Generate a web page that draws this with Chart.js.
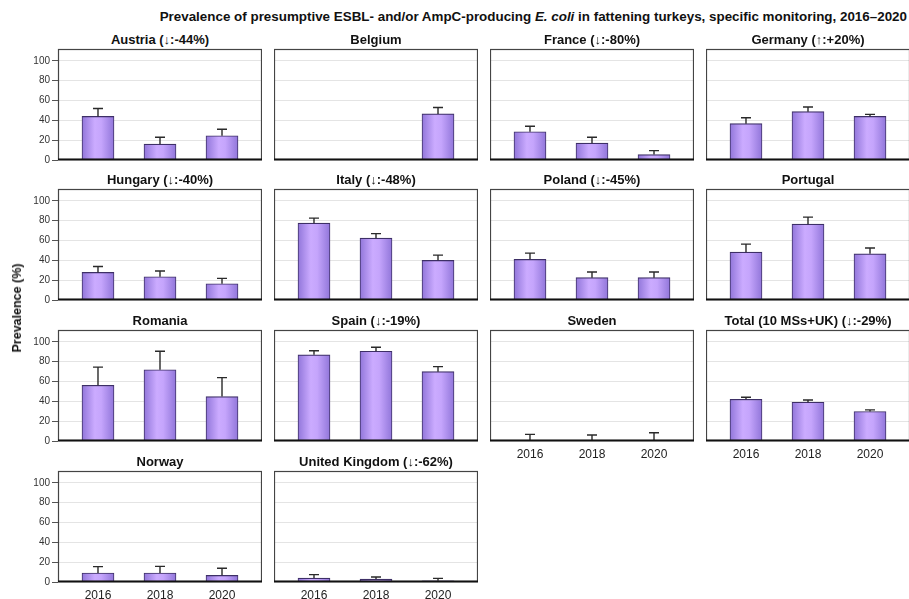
<!DOCTYPE html>
<html>
<head>
<meta charset="utf-8">
<script src="https://cdn.jsdelivr.net/npm/chart.js@4.4.1/dist/chart.umd.min.js"></script>
<style>
  body { margin: 0; background: #fff; width: 909px; height: 599px; overflow: hidden; position: relative; font-family: "Liberation Sans", Arial, sans-serif; }
  canvas { position: absolute; }
  .ptitle { position: absolute; width: 260px; margin-left: -130px; text-align: center; font-size: 13px; font-weight: bold; color: #111; white-space: nowrap; line-height: 16px; }
  #mainTitle { position: absolute; right: 2px; top: 8px; font-size: 13.4px; font-weight: bold; color: #111; white-space: nowrap; line-height: 17px; }
  #yTitle { position: absolute; left: 17px; top: 308px; transform: translate(-50%, -50%) rotate(-90deg); font-size: 12.5px; font-weight: bold; color: #111; white-space: nowrap; z-index: 2; }
</style>
</head>
<body>
<div id="mainTitle">Prevalence of presumptive ESBL- and/or AmpC-producing <i>E. coli</i> in fattening turkeys, specific monitoring, 2016–2020</div>
<div id="yTitle">Prevalence (%)</div>
<script>
const years = [2016, 2018, 2020];
const yTicks = [0, 20, 40, 60, 80, 100];

// prevalence (%) and upper confidence limit for each country
const austria = [44, 16, 24.5];        const austriaHi = [52, 23, 31];
const belgium = [null, null, 46.5];    const belgiumHi = [null, null, 53];
const france = [28.5, 17, 5.5];        const franceHi = [34, 23, 9.5];
const germany = [36.7, 48.8, 44];      const germanyHi = [42.7, 53.5, 46];
const hungary = [27.8, 23.5, 16.4];    const hungaryHi = [33.8, 29.2, 21.8];
const italy = [77.5, 62.4, 40];        const italyHi = [82.6, 67, 45.3];
const poland = [41, 22.5, 22.5];       const polandHi = [47.3, 28.2, 28.2];
const portugal = [48.3, 76.5, 46.6];   const portugalHi = [56.4, 83.6, 52.4];
const romania = [56.2, 71.9, 44.8];    const romaniaHi = [74.5, 90.6, 63.9];
const spain = [87, 90.6, 70];          const spainHi = [91, 94.6, 75];
const sweden = [0.7, 0, 0];            const swedenHi = [6.7, 6, 8.3];
const total = [42.1, 39.1, 29.8];      const totalHi = [44.1, 41.4, 31.4];
const norway = [9.1, 9.1, 6.7];        const norwayHi = [15.5, 15.8, 13.8];
const uk = [4, 3, 1.3];                const ukHi = [7.4, 5, 3.7];

const panels = [
  ['Austria (↓:-44%)', austria, austriaHi],
  ['Belgium', belgium, belgiumHi],
  ['France (↓:-80%)', france, franceHi],
  ['Germany (↑:+20%)', germany, germanyHi],
  ['Hungary (↓:-40%)', hungary, hungaryHi],
  ['Italy (↓:-48%)', italy, italyHi],
  ['Poland (↓:-45%)', poland, polandHi],
  ['Portugal', portugal, portugalHi],
  ['Romania', romania, romaniaHi],
  ['Spain (↓:-19%)', spain, spainHi],
  ['Sweden', sweden, swedenHi],
  ['Total (10 MSs+UK) (↓:-29%)', total, totalHi],
  ['Norway', norway, norwayHi],
  ['United Kingdom (↓:-62%)', uk, ukHi]
];

// layout of the small multiples
const boxLefts = [58, 274, 490, 706];
const boxTops = [49, 189, 330, 471];
const boxW = 204, boxH = 111;
const topPad = 9, axisH = 24;
const labelledPanels = [10, 11, 12, 13];
const FONT = '"Liberation Sans", Arial, sans-serif';

// error bars (upper limit only) with a small cap
const errorBars = {
  id: 'errorBars',
  afterDatasetsDraw(chart) {
    const ctx = chart.ctx;
    const ds = chart.data.datasets[0];
    const yScale = chart.scales.y;
    chart.getDatasetMeta(0).data.forEach((bar, i) => {
      if (ds.upper[i] == null) return;
      const yHi = yScale.getPixelForValue(ds.upper[i]);
      ctx.save();
      ctx.strokeStyle = '#2a2a2a';
      ctx.lineWidth = 1.4;
      ctx.beginPath();
      ctx.moveTo(bar.x, bar.y);
      ctx.lineTo(bar.x, yHi);
      ctx.moveTo(bar.x - 5, yHi);
      ctx.lineTo(bar.x + 5, yHi);
      ctx.stroke();
      ctx.restore();
    });
  }
};

// frame round each panel, thick base line
const panelBox = {
  id: 'panelBox',
  afterDatasetsDraw(chart) {
    const a = chart.chartArea;
    const ctx = chart.ctx;
    ctx.save();
    ctx.strokeStyle = '#444';
    ctx.lineWidth = 1.2;
    ctx.strokeRect(a.left + 0.5, a.top + 0.5, a.right - a.left - 1, a.bottom - a.top - 1);
    ctx.strokeStyle = '#111';
    ctx.lineWidth = 2;
    ctx.beginPath();
    ctx.moveTo(a.left, a.bottom - 0.5);
    ctx.lineTo(a.right, a.bottom - 0.5);
    ctx.stroke();
    ctx.restore();
  }
};

function barFill(context) {
  const chart = context.chart;
  if (!chart.chartArea || !chart.scales.x) return '#b092f0';
  const x = chart.scales.x.getPixelForValue(years[context.dataIndex]);
  const g = chart.ctx.createLinearGradient(x - 16, 0, x + 16, 0);
  g.addColorStop(0, '#9176da');
  g.addColorStop(0.4, '#cbabff');
  g.addColorStop(0.6, '#c5a5fc');
  g.addColorStop(1, '#9176da');
  return g;
}

function createPanel(index, title, values, upper) {
  const col = index % 4, row = Math.floor(index / 4);
  const firstCol = col === 0;
  const yW = firstCol ? boxLefts[0] : 0;

  const head = document.createElement('div');
  head.className = 'ptitle';
  head.textContent = title;
  head.style.left = (boxLefts[col] + boxW / 2) + 'px';
  head.style.top = (boxTops[row] - 17) + 'px';
  document.body.appendChild(head);

  const canvas = document.createElement('canvas');
  canvas.width = yW + boxW;
  canvas.height = topPad + boxH + axisH;
  canvas.style.left = (boxLefts[col] - yW) + 'px';
  canvas.style.top = (boxTops[row] - topPad) + 'px';
  document.body.appendChild(canvas);

  new Chart(canvas.getContext('2d'), {
    type: 'bar',
    data: {
      datasets: [{
        data: values.map((v, i) => ({ x: years[i], y: v })),
        upper: upper,
        backgroundColor: barFill,
        borderColor: '#3d2f66',
        borderWidth: { top: 1.2, left: 1, right: 1, bottom: 0 },
        barThickness: 32
      }]
    },
    options: {
      responsive: false,
      animation: false,
      events: [],
      layout: { padding: { top: topPad } },
      plugins: {
        legend: { display: false },
        tooltip: { enabled: false }
      },
      scales: {
        x: {
          type: 'linear',
          offset: false,
          min: 2014.71,
          max: 2021.29,
          grid: { display: false, drawTicks: false },
          border: { display: false },
          afterBuildTicks: s => { s.ticks = years.map(v => ({ value: v })); },
          afterFit: s => { s.height = axisH; },
          ticks: {
            display: labelledPanels.includes(index),
            padding: 6,
            color: '#222',
            maxRotation: 0,
            font: { family: FONT, size: 12 },
            callback: v => String(v)
          }
        },
        y: {
          min: 0,
          max: 112,
          border: { display: false },
          afterBuildTicks: s => { s.ticks = yTicks.map(v => ({ value: v })); },
          afterFit: s => { s.width = yW; },
          grid: {
            color: c => c.tick && c.tick.value === 0 ? 'rgba(0,0,0,0)' : '#e4e4e4',
            drawTicks: firstCol,
            tickLength: 6,
            tickColor: '#555'
          },
          ticks: {
            display: firstCol,
            padding: 2,
            color: '#333',
            font: { family: FONT, size: 10 }
          }
        }
      }
    },
    plugins: [errorBars, panelBox]
  });
}

window.onload = function() {
  panels.forEach((p, i) => createPanel(i, p[0], p[1], p[2]));
};
</script>
</body>
</html>
